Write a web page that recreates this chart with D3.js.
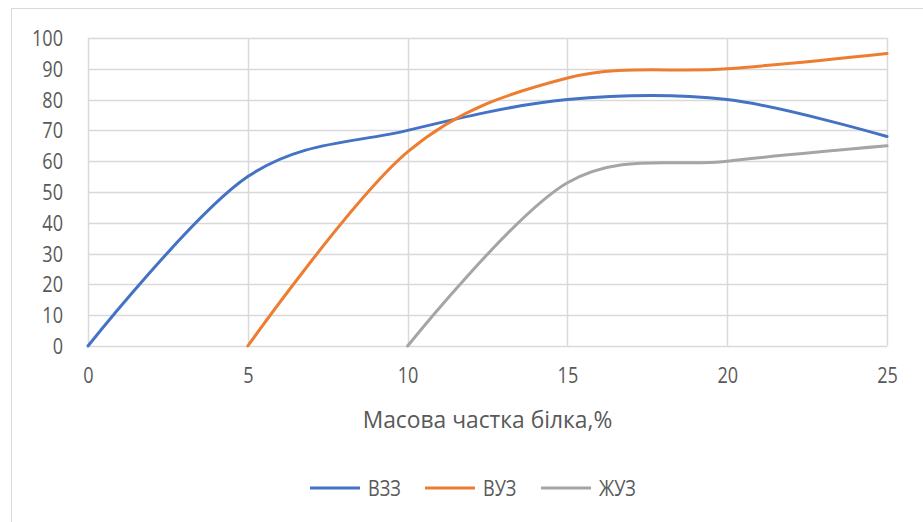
<!DOCTYPE html>
<html>
<head>
<meta charset="utf-8">
<script src="https://cdn.jsdelivr.net/npm/d3@7"></script>
<style>
  body { margin: 0; background: #fff; }
  svg { display: block; }
  text { font-family: "Open Sans", "Liberation Sans", sans-serif; fill: #595959; }
</style>
</head>
<body>
<svg id="chart" width="923" height="522"></svg>
<script>
// Protein mass fraction (%) on the x axis
const xTicks = [0, 5, 10, 15, 20, 25];
const yTicks = [0, 10, 20, 30, 40, 50, 60, 70, 80, 90, 100];

const seriesNames = ["ВЗЗ", "ВУЗ", "ЖУЗ"];
const seriesColors = ["#4472C4", "#ED7D31", "#A5A5A5"];

const vzzX = [0, 5, 10, 15, 20, 25];
const vzzY = [0, 55, 70, 80, 80, 68];
const vuzX = [5, 10, 15, 20, 25];
const vuzY = [0, 63, 87, 90, 95];
const zhuzX = [10, 15, 20, 25];
const zhuzY = [0, 53, 60, 65];

const series = [
  { name: seriesNames[0], color: seriesColors[0], pts: vzzX.map((x, i) => [x, vzzY[i]]) },
  { name: seriesNames[1], color: seriesColors[1], pts: vuzX.map((x, i) => [x, vuzY[i]]) },
  { name: seriesNames[2], color: seriesColors[2], pts: zhuzX.map((x, i) => [x, zhuzY[i]]) }
];

const svg = d3.select("#chart");
const plot = { left: 88, right: 887, top: 38, bottom: 346 };

// narrow the glyphs horizontally so the text reads like a condensed face
function condense(sel, factor) {
  sel.each(function () {
    const w = this.getComputedTextLength();
    d3.select(this).attr("textLength", w * factor).attr("lengthAdjust", "spacingAndGlyphs");
  });
}

// chart frame
svg.append("rect")
  .attr("x", 11.5).attr("y", 8.5)
  .attr("width", 930).attr("height", 530)
  .attr("fill", "none").attr("stroke", "#d9d9d9").attr("stroke-width", 1);

const x = d3.scaleLinear().domain([0, 25]).range([plot.left, plot.right]);
const y = d3.scaleLinear().domain([0, 100]).range([plot.bottom, plot.top]);

// gridlines
const grid = svg.append("g");
grid.selectAll(".h").data(yTicks).join("line")
  .attr("x1", plot.left).attr("x2", plot.right)
  .attr("y1", d => Math.round(y(d)) + 0.5).attr("y2", d => Math.round(y(d)) + 0.5)
  .attr("stroke", "#d9d9d9").attr("stroke-width", 1.5);
grid.selectAll(".v").data(xTicks).join("line")
  .attr("y1", plot.top).attr("y2", plot.bottom)
  .attr("x1", d => Math.round(x(d)) + 0.5).attr("x2", d => Math.round(x(d)) + 0.5)
  .attr("stroke", "#d9d9d9").attr("stroke-width", 1.5);

// axes (labels only)
const yAxis = svg.append("g")
  .attr("transform", `translate(${plot.left - 25},0)`)
  .call(d3.axisLeft(y).tickValues(yTicks).tickSize(0).tickPadding(0));
yAxis.select(".domain").remove();
yAxis.selectAll("text").style("font-size", "21px").attr("dy", "0.36em").attr("fill", "#595959")
  .call(condense, 0.86);

const xAxis = svg.append("g")
  .attr("transform", `translate(0,${plot.bottom + 22})`)
  .call(d3.axisBottom(x).tickValues(xTicks).tickSize(0).tickPadding(0));
xAxis.select(".domain").remove();
xAxis.selectAll("text").style("font-size", "21px").attr("dy", "0.71em").attr("fill", "#595959")
  .call(condense, 0.86);

// axis title
svg.append("text")
  .attr("x", (plot.left + plot.right) / 2).attr("y", 428)
  .attr("text-anchor", "middle")
  .style("font-size", "24px")
  .text("Масова частка білка,%")
  .call(condense, 0.95);

// smoothed series lines
const line = d3.line()
  .x(d => x(d[0])).y(d => y(d[1]))
  .curve(d3.curveCardinal.tension(0));

svg.append("g").selectAll("path").data(series).join("path")
  .attr("d", d => line(d.pts))
  .attr("fill", "none")
  .attr("stroke", d => d.color)
  .attr("stroke-width", 3)
  .attr("stroke-linecap", "round");

// legend
const legendX = [310, 425, 541];
const lg = svg.append("g").selectAll("g").data(series).join("g")
  .attr("transform", (d, i) => `translate(${legendX[i]},488)`);
lg.append("line")
  .attr("x1", 0).attr("x2", 50).attr("y1", 0).attr("y2", 0)
  .attr("stroke", d => d.color).attr("stroke-width", 3);
lg.append("text")
  .attr("x", 58).attr("y", 0).attr("dy", "0.37em")
  .style("font-size", "21px")
  .text(d => d.name)
  .call(condense, 0.86);
</script>
</body>
</html>
